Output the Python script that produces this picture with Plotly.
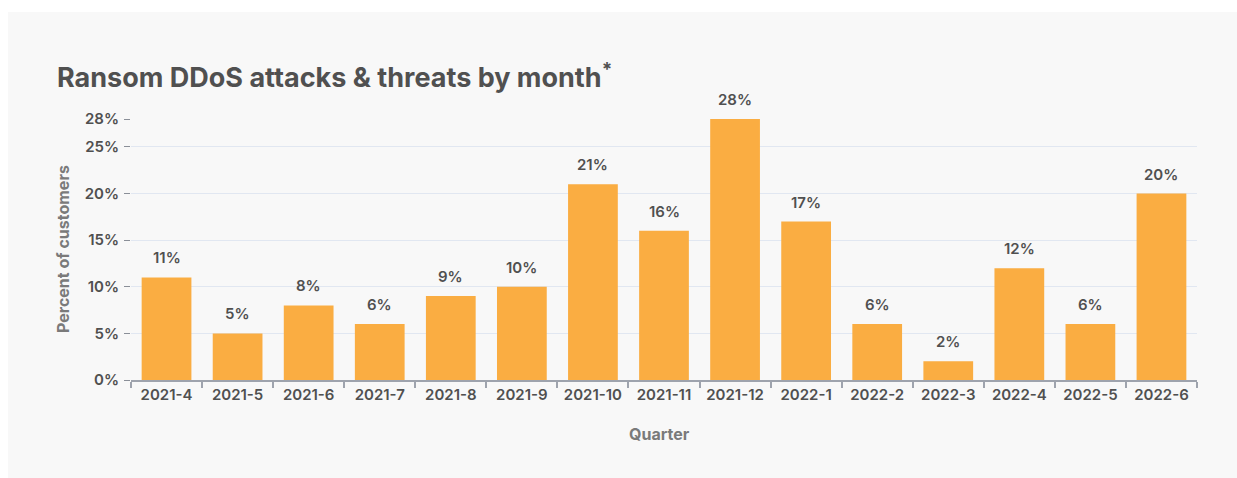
import plotly.graph_objects as go

# Monthly share of customers reporting ransom DDoS attacks or threats
months = ["2021-4", "2021-5", "2021-6", "2021-7", "2021-8", "2021-9", "2021-10",
          "2021-11", "2021-12", "2022-1", "2022-2", "2022-3", "2022-4", "2022-5", "2022-6"]
percent = [11, 5, 8, 6, 9, 10, 21, 16, 28, 17, 6, 2, 12, 6, 20]
y_ticks = [0, 5, 10, 15, 20, 25, 28]
y_tick_labels = [f"{v}%" for v in y_ticks]

BAR = "#FAAD42"
TEXT = "#505050"
MUTED = "#7a7a7a"
FONT = "Inter"

W, H = 1237, 478
L, R, T, B = 131, 40, 119, 98
plot_w = W - L - R
plot_h = H - T - B


def px_x(x):
    return (x - L) / plot_w


def px_y(y):
    return (H - B - y) / plot_h


fig = go.Figure(go.Bar(
    x=months, y=percent, marker_color=BAR, marker_line_width=0,
    hoverinfo="x+y",
))

# value labels above bars
for m, v in zip(months, percent):
    fig.add_annotation(x=m, y=v, text=f"{v}%", showarrow=False, yanchor="bottom",
                       yshift=8, font=dict(family=FONT, size=15, color=TEXT, weight=600))

# axis titles
fig.add_annotation(xref="paper", yref="paper", x=px_x(659), y=px_y(434), text="Quarter",
                   xanchor="center", yanchor="middle", showarrow=False,
                   font=dict(family=FONT, size=16, color=MUTED, weight=700))
fig.add_annotation(xref="paper", yref="paper", x=px_x(63), y=px_y(249), text="Percent of customers",
                   xanchor="center", yanchor="middle", textangle=-90, showarrow=False,
                   font=dict(family=FONT, size=16, color=MUTED, weight=700))

# light panel behind the chart
fig.add_shape(type="rect", xref="paper", yref="paper", layer="below",
              x0=px_x(8), x1=px_x(W + 5), y0=px_y(H + 5), y1=px_y(12),
              fillcolor="#f8f8f8", line_width=0)

fig.update_layout(
    width=W, height=H,
    margin=dict(l=L, r=R, t=T, b=B, autoexpand=False),
    paper_bgcolor="white", plot_bgcolor="rgba(0,0,0,0)",
    bargap=0.3, showlegend=False,
    title=dict(text="Ransom DDoS attacks & threats by month<sup>*</sup>",
               xref="container", yref="container", x=57 / W, xanchor="left",
               y=(H - 78) / H, yanchor="middle",
               font=dict(family=FONT, size=27, color=TEXT, weight=700)),
    font=dict(family=FONT, color=TEXT),
)
fig.update_xaxes(
    type="category",
    showgrid=False, showline=True, linecolor="#9ea3ad", linewidth=2,
    ticks="outside", tickson="boundaries", ticklen=6, tickcolor="#9ea3ad", tickwidth=1.5,
    tickfont=dict(family=FONT, size=15, color=TEXT, weight=600),
    fixedrange=True,
)
fig.update_yaxes(
    range=[0, 28], tickvals=y_ticks, ticktext=y_tick_labels,
    showgrid=True, gridcolor="#e1e7f1", gridwidth=1, zeroline=False, showline=False,
    ticks="outside", ticklen=6, tickcolor="#8a8f98", tickwidth=1, ticklabelstandoff=2,
    tickfont=dict(family=FONT, size=15, color=TEXT, weight=600),
    fixedrange=True,
)

fig.write_html("out.html")
